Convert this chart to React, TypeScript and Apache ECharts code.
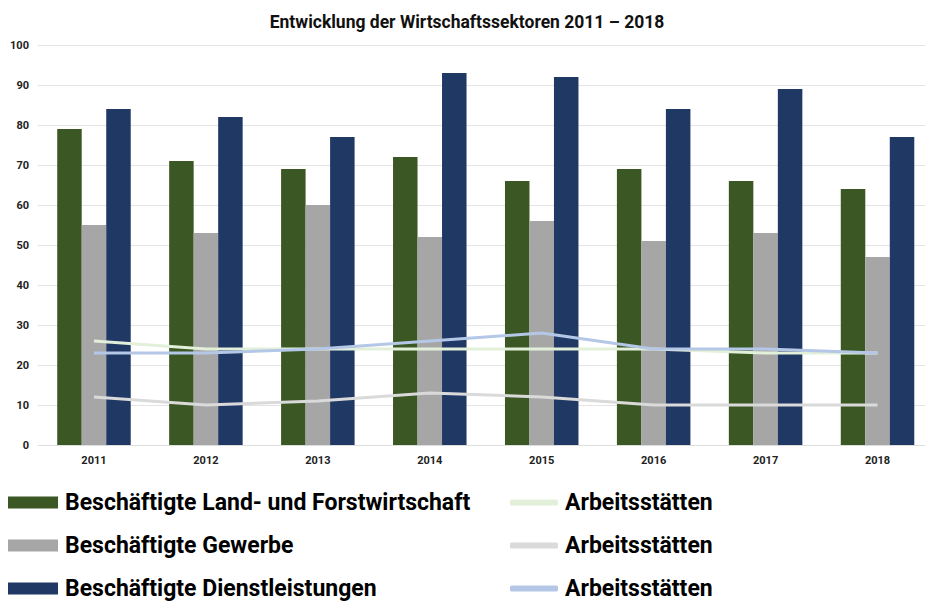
import React, { useEffect, useRef } from "react";
import * as echarts from "echarts";

const years = ["2011", "2012", "2013", "2014", "2015", "2016", "2017", "2018"];
const landForst = [79, 71, 69, 72, 66, 69, 66, 64];
const gewerbe = [55, 53, 60, 52, 56, 51, 53, 47];
const dienst = [84, 82, 77, 93, 92, 84, 89, 77];
const arbeitsLand = [26, 24, 24, 24, 24, 24, 23, 23];
const arbeitsGewerbe = [12, 10, 11, 13, 12, 10, 10, 10];
const arbeitsDienst = [23, 23, 24, 26, 28, 24, 24, 23];

const barNames = [
  "Beschäftigte Land- und Forstwirtschaft",
  "Beschäftigte Gewerbe",
  "Beschäftigte Dienstleistungen",
];
// distinct internal keys, all shown as "Arbeitsstätten"
const lineNames = ["Arbeitsstätten", "Arbeitsstätten ", "Arbeitsstätten  "];

const font = "Roboto, sans-serif";

export default function App() {
  const ref = useRef<HTMLDivElement>(null);
  useEffect(() => {
    if (!ref.current) return;
    const chart = echarts.init(ref.current, null, { renderer: "svg" });
    const barColors = ["#3a5724", "#a6a6a6", "#203864"];
    const lineColors = ["#e2efd9", "#dadada", "#b4c7e7"];
    const barData = [landForst, gewerbe, dienst];
    const lineData = [arbeitsLand, arbeitsGewerbe, arbeitsDienst];
    const legendText = {
      fontFamily: font,
      fontSize: 23,
      fontWeight: "bold",
      color: "#000000",
      lineHeight: 23,
      padding: [0, 0, 0, 2],
    };
    chart.setOption({
      animation: false,
      backgroundColor: "#ffffff",
      title: {
        text: "Entwicklung der Wirtschaftssektoren 2011 – 2018",
        left: 462,
        textAlign: "center",
        top: 8,
        textStyle: {
          fontFamily: font,
          fontSize: 17.5,
          fontWeight: "bold",
          color: "#111111",
        },
      },
      grid: {
        left: 38,
        width: 895.5,
        top: 45,
        bottom: 158,
        containLabel: false,
        outerBoundsMode: "none",
      },
      xAxis: {
        type: "category",
        data: years,
        axisLine: { lineStyle: { color: "#dddddd", width: 1 } },
        axisTick: { show: false },
        axisLabel: {
          color: "#222222",
          fontFamily: font,
          fontWeight: "bold",
          fontSize: 11,
          margin: 10,
        },
      },
      yAxis: {
        type: "value",
        min: 0,
        max: 100,
        interval: 10,
        axisLine: { show: false },
        axisTick: { show: false },
        splitLine: { lineStyle: { color: "#e4e4e4", width: 1 } },
        axisLabel: {
          color: "#222222",
          fontFamily: font,
          fontWeight: "bold",
          fontSize: 11,
          margin: 9,
        },
      },
      legend: [
        {
          orient: "vertical",
          left: 8,
          top: 491,
          height: 140,
          padding: 0,
          itemWidth: 50,
          itemHeight: 12,
          itemGap: 20,
          icon: "rect",
          data: barNames,
          textStyle: legendText,
        },
        {
          orient: "vertical",
          left: 510,
          top: 491,
          height: 140,
          padding: 0,
          itemWidth: 48,
          itemHeight: 6,
          itemGap: 20,
          icon: "roundRect",
          data: lineNames,
          formatter: (n: string) => n.trim(),
          textStyle: legendText,
        },
      ],
      series: [
        ...barNames.map((name, i) => ({
          name,
          type: "bar",
          data: barData[i],
          barWidth: 24.5,
          barGap: "0%",
          itemStyle: { color: barColors[i] },
          z: 2,
        })),
        ...lineNames.map((name, i) => ({
          name,
          type: "line",
          data: lineData[i],
          showSymbol: false,
          symbol: "none",
          lineStyle: { color: lineColors[i], width: 3 },
          itemStyle: { color: lineColors[i] },
          z: 3,
        })),
      ],
    });
    return () => chart.dispose();
  }, []);
  return <div ref={ref} style={{ width: 925, height: 603, position: "absolute", left: 0, top: 0 }} />;
}
